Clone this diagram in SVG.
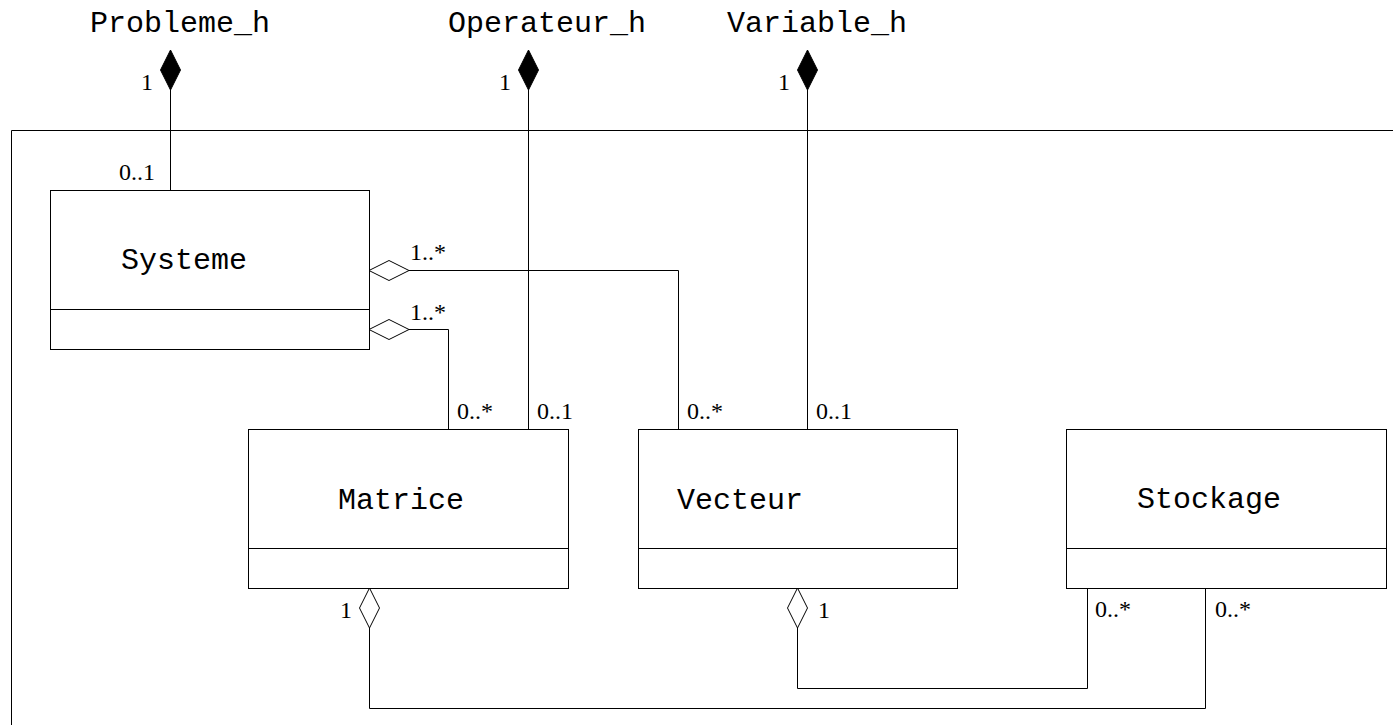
<svg xmlns="http://www.w3.org/2000/svg" width="1393" height="725" viewBox="0 0 1393 725">
<style>
.box{fill:#fff;stroke:#000;stroke-width:1}
.ln{fill:none;stroke:#000;stroke-width:1}
.cls{font-family:"Liberation Mono","DejaVu Sans Mono",monospace;font-size:30px;fill:#000}
.m{font-family:"Liberation Serif","Times New Roman",serif;font-size:24px;fill:#000}
.comp{fill:#000;stroke:#000;stroke-width:1}
.agg{fill:#fff;stroke:#000;stroke-width:1}
</style>
<rect width="1393" height="725" fill="#fff"/>
<g id="frame">
<path class="ln" d="M11.5,726 V130.5 H1394"/>
</g>
<g id="connectors">
<path class="ln" d="M170.5,90 V190"/>
<path class="ln" d="M528.5,90 V429"/>
<path class="ln" d="M807.5,90 V429"/>
<path class="ln" d="M409,270.5 H678.5 V429"/>
<path class="ln" d="M409,329.5 H448.5 V429"/>
<path class="ln" d="M369.5,628 V708.5 H1205.5 V588"/>
<path class="ln" d="M797.5,628 V688.5 H1087.5 V588"/>
<polygon class="comp" points="170.5,50 180.5,70 170.5,90 160.5,70"/>
<polygon class="comp" points="528.5,50 538.5,70 528.5,90 518.5,70"/>
<polygon class="comp" points="807.5,50 817.5,70 807.5,90 797.5,70"/>
<polygon class="agg" points="369,270.5 389,260.5 409,270.5 389,280.5"/>
<polygon class="agg" points="369,329.5 389,319.5 409,329.5 389,339.5"/>
<polygon class="agg" points="369.5,588 379.5,608 369.5,628 359.5,608"/>
<polygon class="agg" points="797.5,588 807.5,608 797.5,628 787.5,608"/>
<text class="m" x="141" y="90">1</text>
<text class="m" x="119" y="180">0..1</text>
<text class="m" x="499" y="90">1</text>
<text class="m" x="778" y="90">1</text>
<text class="m" x="410" y="260">1..*</text>
<text class="m" x="410" y="320">1..*</text>
<text class="m" x="457" y="419">0..*</text>
<text class="m" x="537" y="419">0..1</text>
<text class="m" x="687" y="419">0..*</text>
<text class="m" x="816" y="419">0..1</text>
<text class="m" x="340" y="618">1</text>
<text class="m" x="818" y="618">1</text>
<text class="m" x="1095" y="617">0..*</text>
<text class="m" x="1215" y="617">0..*</text>
</g>
<g id="Probleme_h"><text class="cls" x="90" y="32">Probleme_h</text></g>
<g id="Operateur_h"><text class="cls" x="448" y="32">Operateur_h</text></g>
<g id="Variable_h"><text class="cls" x="727" y="32">Variable_h</text></g>
<g id="Systeme">
<rect class="box" x="50.5" y="190.5" width="319" height="159"/>
<line class="ln" x1="50.5" y1="309.5" x2="369.5" y2="309.5"/>
<text class="cls" x="121" y="269">Systeme</text>
</g>
<g id="Matrice">
<rect class="box" x="248.5" y="429.5" width="320" height="159"/>
<line class="ln" x1="248.5" y1="548.5" x2="568.5" y2="548.5"/>
<text class="cls" x="338" y="509">Matrice</text>
</g>
<g id="Vecteur">
<rect class="box" x="638.5" y="429.5" width="319" height="159"/>
<line class="ln" x1="638.5" y1="548.5" x2="957.5" y2="548.5"/>
<text class="cls" x="677" y="509">Vecteur</text>
</g>
<g id="Stockage">
<rect class="box" x="1066.5" y="429.5" width="320" height="159"/>
<line class="ln" x1="1066.5" y1="548.5" x2="1386.5" y2="548.5"/>
<text class="cls" x="1137" y="508">Stockage</text>
</g>
</svg>
